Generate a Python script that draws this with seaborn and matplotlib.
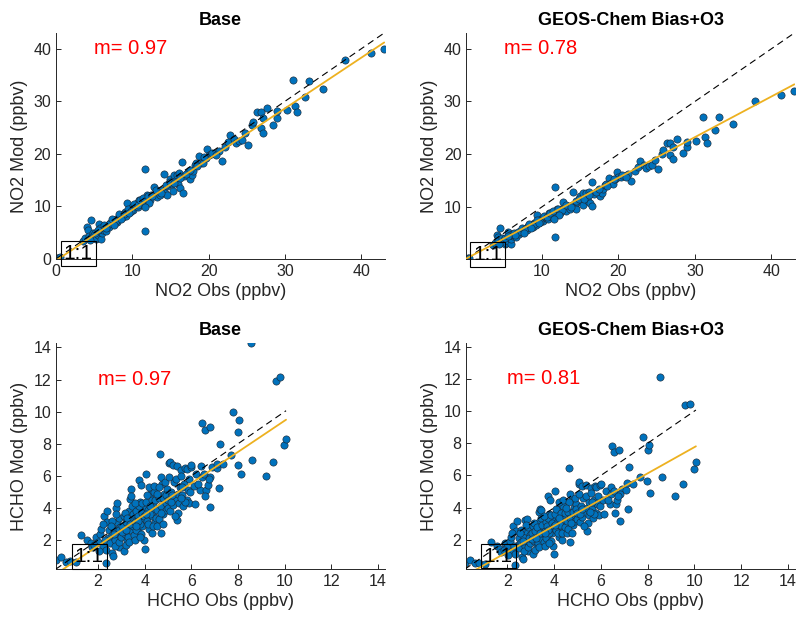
import matplotlib
matplotlib.use("Agg")
import matplotlib.pyplot as plt
import seaborn as sns
import numpy as np

# ---------------- data ----------------
no2_obs = [0.1, 0.3, 0.5, 3.6, 3.8, 4.1, 4.2, 4.55, 4.5, 4.3, 4.7, 4.8, 5.0, 5.2, 5.3, 5.4, 5.5, 5.6, 5.7, 5.9,
           6.0, 6.1, 6.2, 6.4, 6.6, 6.8, 7.0, 7.1, 7.3, 7.5, 7.7, 7.9, 8.0, 8.2, 8.4, 8.6, 8.8, 9.0, 9.2, 9.3,
           9.5, 9.7, 9.9, 10.1, 10.3, 10.5, 10.6, 10.8, 10.9, 11.1, 11.3, 11.5, 11.7, 11.7, 11.8, 11.9, 12.0, 12.3, 12.5, 12.8,
           13.0, 13.2, 13.4, 13.6, 13.9, 14.1, 14.3, 14.5, 14.6, 14.8, 15.0, 15.2, 15.3, 15.4, 15.6, 15.8, 16.0, 16.1, 16.3, 16.5,
           16.6, 16.8, 17.3, 17.6, 17.8, 18.0, 18.2, 18.4, 18.7, 19.0, 19.3, 19.6, 19.8, 20.0, 20.3, 20.8, 21.3, 21.7, 22.2, 22.5,
           22.8, 23.3, 23.6, 24.0, 24.4, 24.8, 25.2, 25.7, 25.8, 26.3, 26.8, 26.8, 27.1, 27.1, 27.7, 28.4, 28.9, 29.0, 30.2, 31.1,
           31.3, 31.6, 32.6, 33.1, 35.0, 37.8, 41.3, 43.0,
           5.1, 5.8, 6.3, 6.9, 7.4, 7.8, 8.3, 8.9, 9.4, 9.8, 10.2, 10.7, 11.0, 11.4, 12.1, 12.6, 13.1, 13.8, 14.4, 14.9,
           15.5, 16.2, 17.0, 17.5, 18.5, 19.4, 20.5, 21.0, 6.5, 7.6, 8.5, 9.6, 4.4, 5.5, 12.2, 11.6]
no2_base = [0.1, 0.2, 0.4, 3.4, 3.9, 6.0, 5.5, 7.5, 3.9, 4.4, 4.3, 5.0, 4.6, 3.8, 3.9, 5.2, 4.5, 6.6, 5.4, 3.8,
            4.9, 6.1, 5.6, 6.0, 5.3, 6.5, 6.1, 6.9, 6.8, 7.2, 6.8, 7.6, 7.1, 8.0, 8.0, 8.4, 7.9, 8.9, 8.2, 10.6,
            9.2, 9.0, 9.8, 9.4, 10.2, 10.0, 10.6, 9.8, 11.2, 10.5, 10.9, 10.2, 17.1, 5.4, 11.5, 12.1, 11.0, 11.2, 12.2, 13.7,
            12.4, 11.8, 12.9, 12.1, 13.1, 16.1, 12.6, 12.1, 13.8, 14.4, 15.2, 14.2, 13.0, 15.9, 14.8, 15.9, 14.2, 16.3, 13.5, 18.5,
            12.6, 15.7, 16.5, 15.3, 15.9, 16.8, 17.8, 18.2, 19.5, 18.3, 18.2, 19.3, 21.0, 19.7, 19.9, 20.1, 20.5, 18.6, 21.3, 22.3,
            23.5, 22.8, 22.0, 22.5, 22.6, 23.9, 21.6, 25.4, 26.1, 27.9, 27.9, 25.0, 26.9, 24.0, 28.8, 25.4, 26.9, 28.1, 28.3, 34.0,
            29.2, 27.9, 30.8, 33.9, 32.4, 37.8, 39.1, 40.0,
            5.0, 5.9, 6.4, 6.6, 7.6, 7.3, 8.5, 8.6, 9.5, 9.1, 10.5, 10.3, 11.3, 11.6, 12.0, 11.9, 13.2, 12.6, 14.0, 14.6,
            14.5, 15.5, 16.2, 17.0, 17.6, 19.4, 20.2, 19.8, 5.8, 6.5, 7.6, 8.8, 3.6, 5.6, 10.6, 9.8]
no2_gc = [0.1, 0.2, 0.3, 2.7, 3.1, 4.6, 4.3, 6.0, 3.1, 3.5, 3.4, 4.0, 3.7, 3.0, 3.1, 4.1, 3.6, 5.2, 4.3, 3.0,
          3.9, 4.8, 4.4, 4.7, 4.2, 5.1, 4.8, 5.4, 5.3, 5.7, 5.3, 6.0, 5.6, 6.3, 6.3, 6.6, 6.2, 7.0, 6.5, 8.4,
          7.3, 7.1, 7.7, 7.4, 8.0, 7.9, 8.3, 7.7, 8.8, 8.3, 8.6, 8.0, 13.7, 4.3, 9.1, 9.6, 8.7, 8.8, 9.6, 10.9,
          9.8, 9.3, 10.2, 9.6, 10.3, 12.8, 9.9, 9.6, 10.9, 11.4, 12.0, 11.2, 10.3, 12.6, 11.7, 12.6, 11.2, 12.9, 10.7, 14.7,
          10.1, 12.4, 13.0, 12.1, 12.6, 13.3, 14.1, 14.4, 15.4, 14.5, 14.4, 15.3, 16.7, 15.6, 15.7, 15.9, 16.2, 14.9, 16.8, 17.6,
          18.7, 18.0, 17.4, 17.8, 17.9, 18.9, 17.2, 20.1, 20.7, 22.1, 22.1, 19.8, 21.3, 19.1, 22.9, 20.2, 21.3, 22.3, 22.5, 27.0,
          23.2, 22.2, 24.6, 27.0, 25.8, 30.1, 31.2, 32.0,
          4.0, 4.7, 5.1, 5.2, 6.0, 5.8, 6.7, 6.8, 7.5, 7.2, 8.3, 8.1, 8.9, 9.2, 9.5, 9.4, 10.4, 10.0, 11.1, 11.5,
          11.5, 12.2, 12.8, 13.4, 13.9, 15.3, 16.0, 15.6, 4.6, 5.1, 6.0, 6.9, 2.9, 4.4, 8.4, 7.7]

hcho_obs = [0.19, 0.40, 0.62, 0.78, 1.05, 1.29, 1.55, 1.69, 1.90, 1.75, 2.00, 2.10, 2.20, 2.26, 2.37, 2.40, 2.33, 2.15, 2.35, 2.45,
            2.30, 1.85, 2.05, 2.50, 2.48, 2.20, 2.62, 2.66, 2.76, 2.83, 2.90, 2.60, 2.70, 2.75, 2.80, 2.85, 2.90, 2.95, 2.60, 2.72,
            2.88, 2.98, 2.55, 2.78, 2.92, 2.68, 3.11, 3.05, 3.10, 3.15, 3.20, 3.26, 3.30, 3.35, 3.37, 3.40, 3.43, 3.45, 3.20, 3.30,
            3.40, 3.48, 3.15, 3.25, 3.35, 3.45, 3.05, 3.38, 3.22, 3.50, 3.55, 3.60, 3.65, 3.70, 3.75, 3.83, 3.80, 3.85, 3.90, 3.95,
            3.97, 3.60, 3.65, 3.70, 3.75, 3.80, 3.85, 3.90, 4.00, 3.58, 3.72, 3.88, 3.98, 3.62, 3.78, 4.04, 4.05, 4.10, 4.15, 4.20,
            4.25, 4.30, 4.33, 4.35, 4.40, 4.45, 4.10, 4.20, 4.30, 4.40, 4.15, 4.25, 4.35, 4.45, 4.05, 4.48, 4.22, 4.38, 4.55, 4.60,
            4.65, 4.68, 4.70, 4.75, 4.80, 4.85, 4.90, 4.95, 4.55, 4.60, 4.70, 4.80, 4.90, 4.62, 4.78, 4.88, 4.98, 4.52, 4.72, 4.92,
            5.05, 5.08, 5.20, 5.00, 5.10, 5.15, 5.20, 5.25, 5.30, 5.37, 5.40, 5.42, 5.45, 5.50, 5.05, 5.12, 5.28, 5.35, 5.48, 5.18,
            5.57, 5.57, 5.60, 5.65, 5.70, 5.75, 5.80, 5.80, 5.85, 5.90, 5.98, 6.00, 5.62, 5.72, 5.88, 5.95, 5.55, 6.14, 6.22, 6.37,
            6.43, 6.45, 6.47, 6.10, 6.30, 6.54, 6.57, 6.65, 6.71, 6.79, 6.82, 6.90, 6.82, 6.60, 6.75, 7.08, 7.11, 7.18, 7.22, 7.37,
            7.68, 7.80, 7.99, 8.00, 8.04, 8.11, 8.54, 8.61, 9.18, 9.49, 9.61, 9.82, 9.96, 10.06]
hcho_base = [0.76, 0.93, 0.66, 0.70, 0.62, 2.29, 2.00, 1.80, 2.20, 1.55, 1.90, 2.40, 1.60, 3.49, 3.14, 3.82, 0.59, 2.70, 1.40, 2.10,
             2.00, 1.70, 1.30, 1.80, 2.60, 3.00, 1.17, 1.00, 3.97, 4.28, 1.58, 2.30, 2.70, 2.00, 3.10, 2.40, 3.40, 2.80, 3.20, 1.60,
             1.90, 2.20, 2.90, 3.60, 2.60, 2.40, 1.34, 2.90, 3.50, 2.40, 3.10, 2.00, 2.70, 3.80, 4.59, 5.21, 4.73, 3.30, 1.70, 2.20,
             2.60, 2.90, 3.70, 3.40, 1.90, 4.10, 2.50, 3.00, 2.60, 3.60, 2.30, 3.10, 3.80, 2.70, 5.73, 5.42, 4.40, 3.30, 2.90, 4.00,
             2.00, 2.00, 2.60, 3.50, 4.10, 3.00, 2.40, 3.70, 1.42, 4.30, 3.20, 4.30, 3.50, 2.90, 2.20, 6.14, 4.40, 3.20, 3.90, 2.70,
             4.90, 3.50, 2.42, 4.20, 5.00, 3.10, 4.80, 5.30, 4.50, 3.80, 3.00, 3.60, 2.90, 4.50, 3.60, 3.40, 4.10, 5.40, 3.90, 4.60,
             7.34, 2.42, 4.10, 5.50, 3.60, 4.90, 4.30, 5.20, 2.90, 3.30, 5.90, 4.60, 3.90, 5.30, 3.00, 5.60, 4.00, 4.90, 3.70, 4.80,
             6.80, 6.86, 6.70, 4.50, 3.80, 5.00, 4.20, 5.60, 4.60, 6.60, 3.28, 4.90, 3.70, 5.30, 5.90, 4.40, 3.50, 5.80, 4.30, 4.80,
             6.39, 5.97, 4.80, 4.10, 5.50, 6.50, 6.45, 4.50, 5.10, 4.30, 6.55, 6.68, 5.30, 4.40, 5.80, 5.00, 4.60, 4.24, 6.14, 5.10,
             6.60, 5.90, 9.29, 5.40, 5.50, 6.14, 8.83, 5.10, 5.42, 9.02, 4.07, 6.55, 5.93, 4.75, 5.80, 6.51, 6.76, 5.27, 8.00, 6.72,
             7.28, 9.97, 6.68, 8.73, 9.50, 6.10, 14.26, 7.01, 5.98, 6.84, 11.90, 12.14, 7.92, 8.29]
hcho_gc = [0.59, 0.78, 0.55, 0.55, 0.52, 1.85, 1.65, 1.45, 1.80, 1.25, 1.55, 1.95, 1.30, 2.85, 2.55, 3.15, 0.45, 2.20, 1.15, 1.70,
           1.65, 1.40, 1.05, 1.50, 2.10, 2.45, 0.95, 0.80, 3.25, 3.30, 1.30, 1.90, 2.20, 1.65, 2.55, 1.95, 2.80, 2.30, 2.60, 1.30,
           1.55, 1.80, 2.40, 2.95, 2.15, 1.95, 1.10, 2.40, 2.85, 1.95, 2.55, 1.65, 2.20, 3.10, 3.75, 3.90, 3.85, 2.70, 1.40, 1.80,
           2.15, 2.40, 3.05, 2.80, 1.55, 3.35, 2.05, 2.45, 2.15, 2.95, 1.90, 2.55, 3.10, 2.20, 4.70, 4.45, 3.60, 2.70, 2.40, 3.30,
           1.65, 1.65, 2.15, 2.85, 3.35, 2.45, 1.95, 3.05, 1.15, 3.50, 2.60, 3.55, 2.85, 2.40, 1.80, 5.05, 3.60, 2.60, 3.20, 2.20,
           4.00, 2.85, 2.00, 3.45, 4.10, 2.55, 3.95, 4.35, 3.70, 3.10, 2.45, 2.95, 2.40, 3.70, 2.95, 2.80, 3.35, 4.45, 3.20, 3.75,
           6.45, 1.90, 3.35, 4.50, 2.95, 4.00, 3.55, 4.25, 2.40, 2.70, 4.85, 3.75, 3.20, 4.35, 2.45, 4.60, 3.30, 4.00, 3.05, 3.95,
           5.45, 5.60, 5.35, 3.70, 3.10, 4.10, 3.45, 4.60, 3.75, 5.40, 2.55, 4.00, 3.05, 4.35, 4.85, 3.60, 2.85, 4.75, 3.55, 3.95,
           5.25, 4.90, 3.95, 3.35, 4.50, 5.35, 5.30, 3.70, 4.20, 3.55, 5.40, 5.50, 4.35, 3.60, 4.75, 4.10, 3.75, 3.60, 5.05, 4.20,
           5.30, 4.85, 7.85, 4.45, 4.50, 5.05, 7.45, 4.20, 4.45, 7.55, 3.15, 5.15, 4.85, 3.70, 4.75, 5.10, 5.55, 3.95, 6.50, 5.50,
           5.90, 8.40, 5.65, 7.55, 7.87, 4.90, 12.10, 5.90, 4.70, 5.45, 10.40, 10.45, 6.40, 6.85]

titles = ["Base", "GEOS-Chem Bias+O3", "Base", "GEOS-Chem Bias+O3"]
slope_labels = ["m= 0.97", "m= 0.78", "m= 0.97", "m= 0.81"]
fit_slope = [0.965, 0.771, 0.975, 0.814]
fit_intercept = [-0.3, 0.1, -0.31, -0.38]
x_labels = ["NO2 Obs (ppbv)", "NO2 Obs (ppbv)", "HCHO Obs (ppbv)", "HCHO Obs (ppbv)"]
y_labels = ["NO2 Mod (ppbv)", "NO2 Mod (ppbv)", "HCHO Mod (ppbv)", "HCHO Mod (ppbv)"]

# ---------------- style ----------------
sns.set_style("ticks")
plt.rcParams['font.family'] = ['Liberation Sans', 'DejaVu Sans']
axis_col = '#262626'
plt.rcParams.update({
    'axes.edgecolor': axis_col, 'axes.linewidth': 0.7,
    'xtick.color': axis_col, 'ytick.color': axis_col,
    'xtick.direction': 'in', 'ytick.direction': 'in',
    'xtick.major.size': 3.5, 'ytick.major.size': 3.5,
    'xtick.major.width': 0.7, 'ytick.major.width': 0.7,
    'xtick.labelsize': 11.5, 'ytick.labelsize': 11.5,
    'axes.labelcolor': axis_col,
})

fig = plt.figure(figsize=(8, 6.2), dpi=100)
positions = [[0.070, 0.5823, 0.4112, 0.3645], [0.5829, 0.5823, 0.4110, 0.3645],
             [0.070, 0.0818, 0.4112, 0.3645], [0.5829, 0.0818, 0.4110, 0.3645]]

panels = [(no2_obs, no2_base), (no2_obs, no2_gc), (hcho_obs, hcho_base), (hcho_obs, hcho_gc)]
xlims = [(0, 43.1), (0.1, 43.1), (0.2, 14.3), (0.25, 14.3)]
ylims = [(0, 43.0), (0.1, 43.0), (0.18, 14.26), (0.18, 14.2)]
ticks = [[0, 10, 20, 30, 40], [10, 20, 30, 40], [2, 4, 6, 8, 10, 12, 14], [2, 4, 6, 8, 10, 12, 14]]
mpos = [(5, 40), (5, 40), (2, 12), (2, 12)]

for i, (xs, ys) in enumerate(panels):
    ax = fig.add_axes(positions[i])
    xs = np.asarray(xs); ys = np.asarray(ys)
    x0, x1 = xs.min(), xs.max()
    # 1:1 line
    sns.lineplot(x=[x0, x1], y=[x0, x1], ax=ax, color='black', lw=0.8,
                 estimator=None, sort=False, zorder=3)
    ax.lines[-1].set_dashes([6, 4])
    # scatter
    sns.scatterplot(x=xs, y=ys, ax=ax, s=27, color='#0072BD', edgecolor='#1c2b3a',
                    linewidth=0.45, zorder=2)
    # regression line
    sns.lineplot(x=[x0, x1], y=[fit_slope[i] * x0 + fit_intercept[i], fit_slope[i] * x1 + fit_intercept[i]],
                 ax=ax, color='#EDB120', lw=1.3, estimator=None, sort=False, zorder=4)
    ax.set_xlim(*xlims[i]); ax.set_ylim(*ylims[i])
    ax.set_xticks(ticks[i]); ax.set_yticks(ticks[i])
    sns.despine(ax=ax)
    ax.set_title(titles[i], fontsize=13, fontweight='bold', color='black', pad=6)
    ax.set_xlabel(x_labels[i], fontsize=13, labelpad=3)
    ax.set_ylabel(y_labels[i], fontsize=13, labelpad=4)
    ax.text(mpos[i][0], mpos[i][1], slope_labels[i], color='#ff0000', fontsize=14.5,
            ha='left', va='center', zorder=5)
    ax.text(1, 1, "1:1", fontsize=15, color='black', ha='left', va='center', zorder=6, clip_on=False,
            bbox=dict(boxstyle='square,pad=0.14', facecolor='none', edgecolor='black', linewidth=0.8))

fig.savefig("out.png", dpi=100)
